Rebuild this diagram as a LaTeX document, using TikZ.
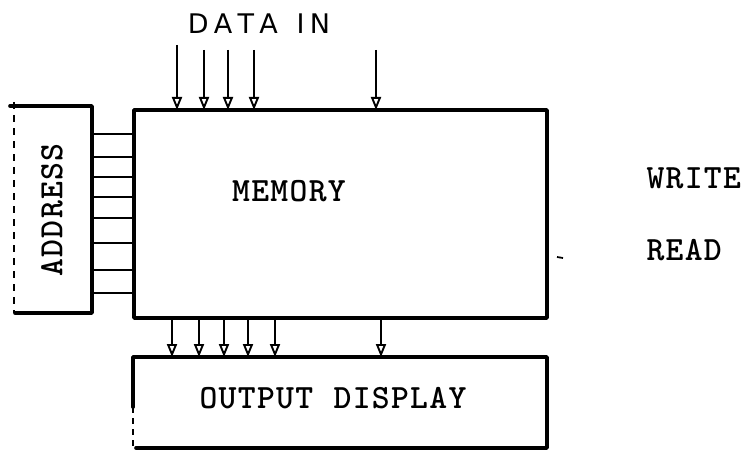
\documentclass[tikz,border=0pt]{standalone}
\usepackage{fontspec}
\usetikzlibrary{arrows.meta,calc}
\newfontfamily\hand{DejaVu Sans}
\newcommand\lk{\kern1.3pt\relax}
\newcommand\hk{\kern5.2pt\relax}
\begin{document}
\begin{tikzpicture}[x=1pt,y=-1pt,
  boxline/.style={line width=3.6pt, line cap=round, line join=round},
  blank/.style={inner sep=0pt, outer sep=0pt},
  wire/.style={line width=2.6pt},
  sig/.style={line width=2pt, -{Triangle[open,length=13pt,width=10pt,line width=1.9pt]}},
  tw/.style={font=\ttfamily\bfseries\fontsize{34}{37}\selectfont}]
\useasboundingbox (0,0) rectangle (745,452);

% boxes
\node[draw, boxline, blank, minimum width=413pt, minimum height=208pt] (mem) at (340.5,214) {};
\node[blank, minimum width=78pt, minimum height=207pt] (addr) at (53,209.5) {};
\node[blank, minimum width=414pt, minimum height=91pt] (out) at (340,402.5) {};

% address box: three solid sides, dashed left
\draw[boxline] ([xshift=-4pt]addr.north west) -- (addr.north east) -- (addr.south east) -- ([xshift=1pt]addr.south west);
\draw[line width=2pt, dash pattern=on 7pt off 6pt] ([yshift=4pt]addr.north west) -- (addr.south west);

% output box
\draw[boxline] ($(out.north west)!0.55!(out.south west)$) -- (out.north west) -- (out.north east) -- (out.south east) -- ([xshift=3pt]out.south west);
\draw[line width=2pt, dash pattern=on 6pt off 5pt] ($(out.north west)!0.55!(out.south west)$) -- (out.south west);

% texts
\node[tw] (memtxt) at (289,191) {M\lk E\lk M\lk O\lk R\lk Y};
\node[tw, rotate=90] (addrtxt) at (52,210) {A\lk D\lk D\lk R\lk E\lk S\lk S};
\node[tw] (outtxt) at (333,398) {O\lk U\lk T\lk P\lk U\lk T\lk\ \lk D\lk I\lk S\lk P\lk L\lk A\lk Y};
\node[tw, anchor=west] (wr) at (643,178) {W\lk R\lk I\lk T\lk E};
\node[tw, anchor=west] (rd) at (643,250) {R\lk E\lk A\lk D};
\node[font=\hand\fontsize{27}{29}\selectfont] (din) at (259,24) {D\hk A\hk T\hk A\hk\ \hk I\hk N};

% address lines
\foreach \y in {134,157,177,197,218,243,270,293}
  \draw[wire] (addr.east |- 0,\y) -- (mem.west |- 0,\y);

% data in arrows
\coordinate (d1) at (177,45);
\coordinate (d2) at (204,50);
\coordinate (d3) at (228,50);
\coordinate (d4) at (254,50);
\coordinate (d5) at (376,50);
\foreach \c in {d1,d2,d3,d4,d5}
  \draw[sig] (\c) -- (\c |- mem.north);

% output arrows
\foreach \x in {172,199,224,248,275,381}
  \draw[sig] (mem.south -| \x,0) -- (out.north -| \x,0);

% small read mark
\coordinate (rm) at (557,257);
\draw[line width=1.8pt] (rm) -- ++(6,1);
\end{tikzpicture}
\end{document}
